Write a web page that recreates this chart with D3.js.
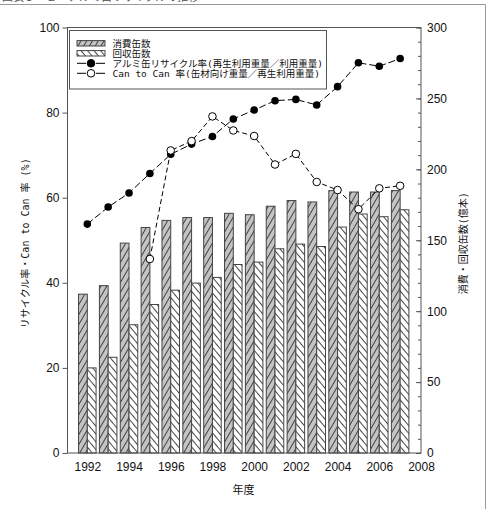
<!DOCTYPE html>
<html>
<head>
<meta charset="utf-8">
<script src="https://cdn.jsdelivr.net/npm/d3@7"></script>
<style>
body { margin: 0; background: #fff; }
svg { display: block; }
</style>
</head>
<body>
<svg id="chart" width="488" height="509"></svg>
<script>
// data
var years = [1992, 1993, 1994, 1995, 1996, 1997, 1998, 1999, 2000, 2001, 2002, 2003, 2004, 2005, 2006, 2007];
var consumed = [112, 118, 148, 159, 164, 166, 166, 169, 168, 174, 178, 177, 185, 184, 184, 185];
var recovered = [60, 67.5, 90.4, 104.7, 114.8, 119.8, 123.8, 132.9, 134.6, 144, 147.3, 145.6, 159.3, 168.5, 166.6, 171.5];
var recycleRate = [53.8, 57.8, 61.1, 65.7, 70.2, 72.6, 74.4, 78.5, 80.6, 82.8, 83.1, 81.8, 86.1, 91.7, 90.9, 92.7];
var c2cYears = [1995, 1996, 1997, 1998, 1999, 2000, 2001, 2002, 2003, 2004, 2005, 2006, 2007];
var c2cRate = [45.6, 71.1, 73.3, 79.1, 75.8, 74.5, 67.8, 70.3, 63.7, 61.8, 57.3, 62.2, 62.8];
var xTicks = [1992, 1994, 1996, 1998, 2000, 2002, 2004, 2006, 2008];
var leftTicks = [0, 20, 40, 60, 80, 100];
var rightTicks = [0, 50, 100, 150, 200, 250, 300];
var legendLabels = ['消費缶数', '回収缶数', 'アルミ缶リサイクル率(再生利用重量／利用重量)', 'Can to Can 率(缶材向け重量／再生利用重量)'];

var svg = d3.select('#chart');
var jpFont = '"DejaVu Sans Mono", "Noto Sans CJK JP", sans-serif';
var numFont = '"Liberation Sans", Arial, sans-serif';

var plotL = 67.5, plotR = 421, plotT = 27.5, plotB = 453;

var x = d3.scaleLinear().domain([1991.05, 2008]).range([plotL, plotR]);
var yL = d3.scaleLinear().domain([0, 100]).range([plotB, plotT]);
var yR = d3.scaleLinear().domain([0, 300]).range([plotB, plotT]);
var barW = 0.42; // in years

// figure frame / title (cut off at the top, as in the source)
svg.append('text')
	.attr('x', 2)
	.attr('y', 1)
	.attr('font-family', jpFont)
	.attr('font-size', 11)
	.attr('fill', '#555')
	.text('図表５－２　アルミ缶リサイクルの推移');
svg.append('line')
	.attr('x1', 0).attr('x2', 485.5)
	.attr('y1', 4.5).attr('y2', 4.5)
	.attr('stroke', '#999');
svg.append('line')
	.attr('x1', 485.5).attr('x2', 485.5)
	.attr('y1', 4.5).attr('y2', 509)
	.attr('stroke', '#999');

// hatch patterns
var defs = svg.append('defs');
var p1 = defs.append('pattern')
	.attr('id', 'hatch-fwd')
	.attr('patternUnits', 'userSpaceOnUse')
	.attr('width', 5).attr('height', 5)
	.attr('patternTransform', 'rotate(-60)');
p1.append('rect').attr('width', 5).attr('height', 5).attr('fill', '#c4c4c4');
p1.append('line')
	.attr('x1', 0).attr('x2', 5).attr('y1', 0.5).attr('y2', 0.5)
	.attr('stroke', '#333').attr('stroke-width', 0.9);

var p2 = defs.append('pattern')
	.attr('id', 'hatch-back')
	.attr('patternUnits', 'userSpaceOnUse')
	.attr('width', 5).attr('height', 5)
	.attr('patternTransform', 'rotate(50)');
p2.append('rect').attr('width', 5).attr('height', 5).attr('fill', '#fff');
p2.append('line')
	.attr('x1', 0).attr('x2', 5).attr('y1', 0.5).attr('y2', 0.5)
	.attr('stroke', '#333').attr('stroke-width', 0.9);

// bars
svg.selectAll('rect.consumed')
	.data(years)
	.enter()
	.append('rect')
	.attr('class', 'consumed')
	.attr('x', d => x(d - barW))
	.attr('width', d => x(d) - x(d - barW))
	.attr('y', (d, i) => yR(consumed[i]))
	.attr('height', (d, i) => plotB - yR(consumed[i]))
	.attr('fill', 'url(#hatch-fwd)')
	.attr('stroke', '#444')
	.attr('stroke-width', 1);

svg.selectAll('rect.recovered')
	.data(years)
	.enter()
	.append('rect')
	.attr('class', 'recovered')
	.attr('x', d => x(d))
	.attr('width', d => x(d + barW) - x(d))
	.attr('y', (d, i) => yR(recovered[i]))
	.attr('height', (d, i) => plotB - yR(recovered[i]))
	.attr('fill', 'url(#hatch-back)')
	.attr('stroke', '#444')
	.attr('stroke-width', 1);

// lines
var recLine = d3.line()
	.x((d, i) => x(years[i]))
	.y(d => yL(d));
svg.append('path')
	.attr('d', recLine(recycleRate))
	.attr('fill', 'none')
	.attr('stroke', '#000')
	.attr('stroke-width', 1)
	.attr('stroke-dasharray', '7,3');

var c2cLine = d3.line()
	.x((d, i) => x(c2cYears[i]))
	.y(d => yL(d));
svg.append('path')
	.attr('d', c2cLine(c2cRate))
	.attr('fill', 'none')
	.attr('stroke', '#000')
	.attr('stroke-width', 1)
	.attr('stroke-dasharray', '5,3');

svg.selectAll('circle.rec')
	.data(recycleRate)
	.enter()
	.append('circle')
	.attr('class', 'rec')
	.attr('cx', (d, i) => x(years[i]))
	.attr('cy', d => yL(d))
	.attr('r', 3.8)
	.attr('fill', '#000');

svg.selectAll('circle.c2c')
	.data(c2cRate)
	.enter()
	.append('circle')
	.attr('class', 'c2c')
	.attr('cx', (d, i) => x(c2cYears[i]))
	.attr('cy', d => yL(d))
	.attr('r', 3.8)
	.attr('fill', '#fff')
	.attr('stroke', '#000')
	.attr('stroke-width', 1);

// frame
svg.append('rect')
	.attr('x', plotL).attr('y', plotT)
	.attr('width', plotR - plotL).attr('height', plotB - plotT)
	.attr('fill', 'none')
	.attr('stroke', '#555')
	.attr('stroke-width', 1);

// axes
var styleAxis = function(g, size) {
	g.select('.domain').remove();
	g.selectAll('line').attr('stroke', '#555');
	g.selectAll('text')
		.attr('font-family', numFont)
		.attr('font-size', size)
		.attr('fill', '#111');
}

svg.append('g')
	.attr('transform', 'translate(' + plotL + ',0)')
	.call(d3.axisLeft(yL).tickValues(leftTicks).tickSize(5).tickPadding(3))
	.call(g => styleAxis(g, 12));

// right axis: ticks point inward, minor every 10
svg.append('g')
	.attr('transform', 'translate(' + plotR + ',0)')
	.call(d3.axisRight(yR).ticks(30).tickSize(-3).tickFormat(''))
	.call(g => styleAxis(g, 12));

svg.append('g')
	.attr('transform', 'translate(' + plotR + ',0)')
	.call(d3.axisRight(yR).tickValues(rightTicks).tickSize(-5).tickPadding(6))
	.call(g => styleAxis(g, 12));

svg.append('g')
	.attr('transform', 'translate(0,' + plotB + ')')
	.call(d3.axisBottom(x).tickValues(xTicks).tickFormat(d3.format('d')).tickSize(0).tickPadding(9))
	.call(g => styleAxis(g, 12));

// axis titles
svg.append('text')
	.attr('transform', 'translate(25.5,' + ((plotT + plotB) / 2 + 3) + ') rotate(-90)')
	.attr('text-anchor', 'middle')
	.attr('dominant-baseline', 'central')
	.attr('font-family', jpFont)
	.attr('font-size', 10)
	.attr('fill', '#111')
	.text('リサイクル率・Can to Can 率 (%)');

svg.append('text')
	.attr('transform', 'translate(463,' + ((plotT + plotB) / 2 + 3) + ') rotate(-90)')
	.attr('text-anchor', 'middle')
	.attr('dominant-baseline', 'central')
	.attr('font-family', jpFont)
	.attr('font-size', 10)
	.attr('fill', '#111')
	.text('消費・回収缶数(億本)');

svg.append('text')
	.attr('x', 243.5)
	.attr('y', 494)
	.attr('text-anchor', 'middle')
	.attr('font-family', jpFont)
	.attr('font-size', 11)
	.attr('fill', '#111')
	.text('年度');

// legend
var lg = svg.append('g');
lg.append('rect')
	.attr('x', 69.5).attr('y', 30.5)
	.attr('width', 257).attr('height', 58.5)
	.attr('fill', '#fff')
	.attr('stroke', '#555');

var rowY = [43.3, 53.3, 63.3, 73.3];
var sx0 = 77, sx1 = 105;
lg.append('rect')
	.attr('x', sx0).attr('y', rowY[0] - 2.7)
	.attr('width', sx1 - sx0).attr('height', 5.4)
	.attr('fill', 'url(#hatch-fwd)')
	.attr('stroke', '#444');
lg.append('rect')
	.attr('x', sx0).attr('y', rowY[1] - 2.7)
	.attr('width', sx1 - sx0).attr('height', 5.4)
	.attr('fill', 'url(#hatch-back)')
	.attr('stroke', '#444');

[2, 3].forEach(function(k) {
	var cx = (sx0 + sx1) / 2;
	lg.append('line')
		.attr('x1', sx0).attr('x2', cx - 5)
		.attr('y1', rowY[k]).attr('y2', rowY[k])
		.attr('stroke', '#000');
	lg.append('line')
		.attr('x1', cx + 5).attr('x2', sx1)
		.attr('y1', rowY[k]).attr('y2', rowY[k])
		.attr('stroke', '#000');
	lg.append('circle')
		.attr('cx', cx)
		.attr('cy', rowY[k])
		.attr('r', 3.8)
		.attr('fill', k == 2 ? '#000' : '#fff')
		.attr('stroke', '#000');
});

lg.selectAll('text.lab')
	.data(legendLabels)
	.enter()
	.append('text')
	.attr('class', 'lab')
	.attr('x', 112.5)
	.attr('y', (d, i) => rowY[i])
	.attr('dominant-baseline', 'central')
	.attr('font-family', jpFont)
	.attr('font-size', 9.5)
	.attr('fill', '#111')
	.text(d => d);
</script>
</body>
</html>
